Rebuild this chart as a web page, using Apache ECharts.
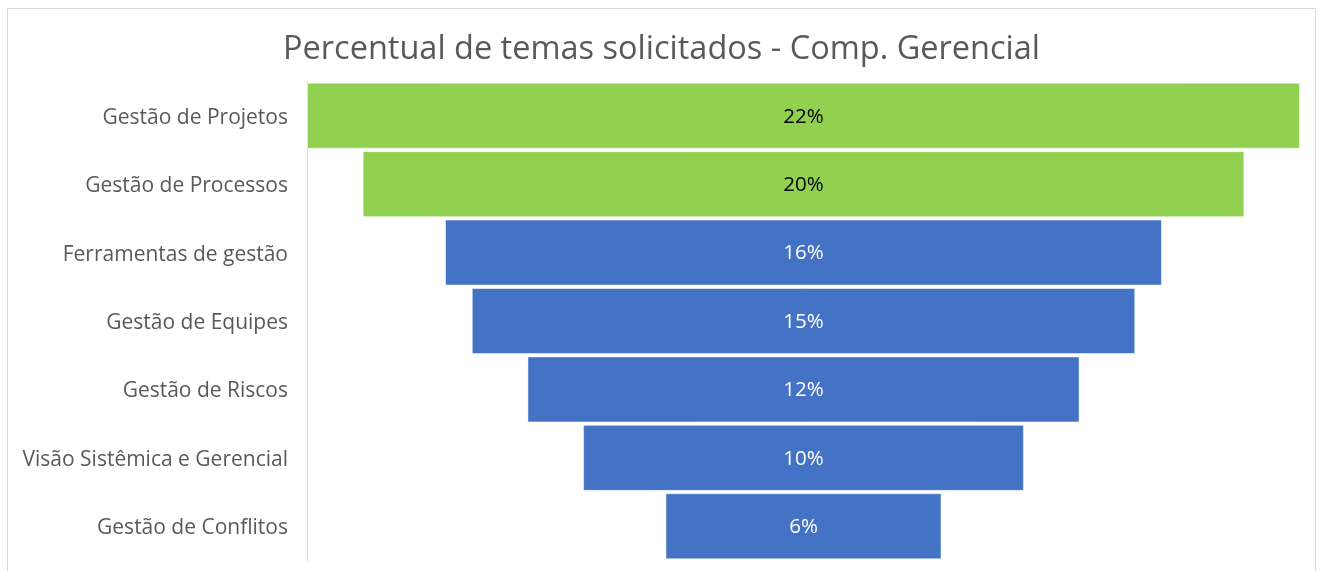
<!DOCTYPE html>
<html>
<head>
<meta charset="utf-8">
<script src="https://cdn.jsdelivr.net/npm/echarts@6/dist/echarts.min.js"></script>
<style>
  html, body { margin: 0; padding: 0; background: #fff; }
  #frame { position: absolute; left: 7px; top: 8px; width: 1309px; height: 580px; border: 1px solid #d9d9d9; box-sizing: border-box; }
  #chart { position: absolute; left: 0; top: 0; width: 1323px; height: 571px; }
</style>
</head>
<body>
<div id="frame"></div>
<div id="chart"></div>
<script>
const categories = [
  'Gestão de Projetos',
  'Gestão de Processos',
  'Ferramentas de gestão',
  'Gestão de Equipes',
  'Gestão de Riscos',
  'Visão Sistêmica e Gerencial',
  'Gestão de Conflitos'
];
const values = [22.3, 19.8, 16.1, 14.9, 12.4, 9.9, 6.2];
const barColors = ['#92D050', '#92D050', '#4472C4', '#4472C4', '#4472C4', '#4472C4', '#4472C4'];
const labelColors = ['#000000', '#000000', '#ffffff', '#ffffff', '#ffffff', '#ffffff', '#ffffff'];

const maxVal = Math.max(...values);
const offsets = values.map(v => (maxVal - v) / 2);
const font = '"Open Sans", "Noto Sans", sans-serif';

const chart = echarts.init(document.getElementById('chart'));
chart.setOption({
  animation: false,
  title: {
    text: 'Percentual de temas solicitados - Comp. Gerencial',
    left: 'center',
    top: 28,
    textStyle: { fontFamily: font, fontSize: 32.5, fontWeight: 'normal', color: '#595959' }
  },
  grid: { left: 307, right: 23, top: 81.5, bottom: 10.5 },
  xAxis: {
    type: 'value',
    min: 0,
    max: maxVal,
    show: false
  },
  yAxis: {
    type: 'category',
    inverse: true,
    data: categories,
    axisLine: { show: true, lineStyle: { color: '#d9d9d9', width: 1 } },
    axisTick: { show: false },
    axisLabel: {
      margin: 19,
      formatter: v => '{t|' + v + '}',
      rich: {
        t: { fontFamily: font, fontSize: 21, color: '#595959', padding: [4, 0, 0, 0] }
      }
    }
  },
  series: [
    {
      type: 'bar',
      stack: 'funnel',
      data: offsets,
      itemStyle: { color: 'transparent' },
      silent: true,
      barWidth: 66
    },
    {
      type: 'bar',
      stack: 'funnel',
      barWidth: 66,
      data: values.map((v, i) => ({
        value: v,
        itemStyle: { color: barColors[i], borderColor: 'rgba(255,255,255,0.5)', borderWidth: 1 },
        label: { color: labelColors[i] }
      })),
      label: {
        show: true,
        position: 'inside',
        offset: [0, 1],
        fontFamily: font,
        fontSize: 20.5,
        formatter: p => Math.round(p.value) + '%'
      }
    }
  ]
});
</script>
</body>
</html>
